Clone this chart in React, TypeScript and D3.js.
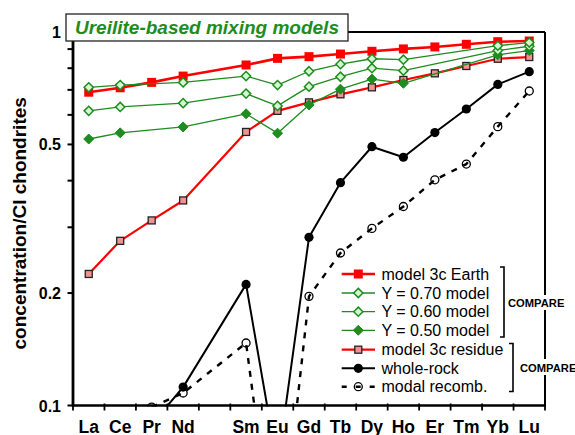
import React from "react";
import * as d3 from "d3";

const ELEMENTS = ["La", "Ce", "Pr", "Nd", "Pm", "Sm", "Eu", "Gd", "Tb", "Dy", "Ho", "Er", "Tm", "Yb", "Lu"];
const X_LABELS = ["La", "Ce", "Pr", "Nd", "", "Sm", "Eu", "Gd", "Tb", "Dy", "Ho", "Er", "Tm", "Yb", "Lu"];

const EARTH = [0.690, 0.709, 0.733, 0.762, null, 0.816, 0.850, 0.859, 0.873, 0.888, 0.901, 0.912, 0.927, 0.942, 0.946];
const Y70 = [0.711, 0.721, null, 0.733, null, 0.762, 0.721, 0.785, 0.820, 0.848, 0.843, null, null, 0.919, 0.937];
const Y60 = [0.615, 0.630, null, 0.645, null, 0.684, 0.634, 0.714, 0.759, 0.800, 0.788, null, null, 0.892, 0.916];
const Y50 = [0.517, 0.537, null, 0.557, null, 0.604, 0.536, 0.638, 0.703, 0.748, 0.729, null, null, 0.869, 0.892];
const RESIDUE = [0.225, 0.276, 0.313, 0.354, null, 0.540, 0.615, 0.648, 0.681, 0.711, 0.744, 0.775, 0.811, 0.848, 0.857];
const WHOLE_ROCK = [null, null, 0.089, 0.112, null, 0.211, 0.069, 0.282, 0.395, 0.493, 0.462, 0.538, 0.622, 0.724, 0.783];
const MODAL = [null, null, 0.099, 0.108, null, 0.147, 0.034, 0.196, 0.256, 0.298, 0.341, 0.402, 0.443, 0.558, 0.695];

const Y_MAJOR = [1, 0.5, 0.2, 0.1];
const Y_MAJOR_LABELS = ["1", "0.5", "0.2", "0.1"];
const Y_MINOR = [0.9, 0.8, 0.7, 0.6, 0.4, 0.3];

const LEGEND_LABELS = [
  "model 3c Earth",
  "Y = 0.70 model",
  "Y = 0.60 model",
  "Y = 0.50 model",
  "model 3c residue",
  "whole-rock",
  "modal recomb.",
];

const GREEN = "#1e8c1e";
const LIGHT_GREEN = "#d2f7d2";
const RED = "#ff0000";
const PINK = "#f39191";
const FONT = "'Liberation Sans', Arial, Helvetica, sans-serif";
const NARROW = "'Liberation Sans Narrow', 'Arial Narrow', 'Liberation Sans', Arial, sans-serif";

const L = 73, R = 545, T = 32, B = 405.5;

type Pt = { x: number; y: number };

function diamondPath(r: number) {
  return `M0,${-r}L${r},0L0,${r}L${-r},0Z`;
}

function Marker({ kind, x, y }: { kind: string; x: number; y: number }) {
  switch (kind) {
    case "earth":
      return <rect x={x - 4.5} y={y - 4.5} width={9} height={9} fill={RED} />;
    case "open":
      return <path d={diamondPath(4.6)} transform={`translate(${x},${y})`} fill={LIGHT_GREEN} stroke={GREEN} strokeWidth={1.5} />;
    case "filled":
      return <path d={diamondPath(5)} transform={`translate(${x},${y})`} fill={GREEN} stroke={GREEN} strokeWidth={1} />;
    case "residue":
      return <rect x={x - 3.5} y={y - 3.5} width={7} height={7} fill={PINK} stroke="#222" strokeWidth={1.3} />;
    case "whole":
      return <circle cx={x} cy={y} r={4.6} fill="#000" />;
    case "modal":
      return <circle cx={x} cy={y} r={4} fill="none" stroke="#000" strokeWidth={1.3} />;
    default:
      return null;
  }
}

export default function App() {
  const x = d3.scaleBand<string>().domain(ELEMENTS).range([L, R]).padding(0);
  const bw = x.bandwidth();
  const cx = (e: string) => (x(e) as number) + bw / 2;
  const y = d3.scaleLog().domain([0.1, 1]).range([B, T]);

  const pts = (vals: (number | null)[]): Pt[] =>
    ELEMENTS.map((e, i) => (vals[i] == null ? null : { x: cx(e), y: y(vals[i] as number) })).filter(
      (p): p is Pt => p !== null
    );
  const line = d3.line<Pt>().x((d) => d.x).y((d) => d.y);

  const series = [
    { vals: MODAL, stroke: "#000", width: 2.4, dash: "6,7", marker: "modal" },
    { vals: WHOLE_ROCK, stroke: "#000", width: 2, dash: undefined, marker: "whole" },
    { vals: RESIDUE, stroke: RED, width: 2.2, dash: undefined, marker: "residue" },
    { vals: EARTH, stroke: RED, width: 2.6, dash: undefined, marker: "earth" },
    { vals: Y50, stroke: GREEN, width: 1.3, dash: undefined, marker: "filled" },
    { vals: Y60, stroke: GREEN, width: 1.3, dash: undefined, marker: "open" },
    { vals: Y70, stroke: GREEN, width: 1.3, dash: undefined, marker: "open" },
  ];

  const legendStyles = [
    { stroke: RED, width: 2.6, dash: undefined, marker: "earth" },
    { stroke: GREEN, width: 1.3, dash: undefined, marker: "open" },
    { stroke: GREEN, width: 1.3, dash: undefined, marker: "open" },
    { stroke: GREEN, width: 1.3, dash: undefined, marker: "filled" },
    { stroke: RED, width: 2.2, dash: undefined, marker: "residue" },
    { stroke: "#000", width: 2, dash: undefined, marker: "whole" },
    { stroke: "#000", width: 2.4, dash: "5,9", marker: "modal" },
  ];
  const legendY = [274, 293, 311.7, 330.3, 349.7, 368.3, 386.7];

  const ticksX = d3.range(ELEMENTS.length + 1).map((i) => L + i * bw);

  return (
    <svg width={575} height={435} style={{ position: "absolute", left: 0, top: 0, display: "block", background: "#fff" }} fontFamily={FONT}>
      <defs>
        <clipPath id="plot">
          <rect x={L} y={T - 6} width={R - L + 6} height={B - T + 7} />
        </clipPath>
      </defs>
      <rect x={0} y={0} width={575} height={435} fill="#fff" />

      {/* frame top & right */}
      <line x1={L} x2={R} y1={T} y2={T} stroke="#000" strokeWidth={2} />
      <line x1={R} x2={R} y1={T} y2={B} stroke="#000" strokeWidth={2} />

      {/* data */}
      <g clipPath="url(#plot)">
        {series.map((s, i) => {
          const p = pts(s.vals);
          return (
            <g key={i}>
              <path d={line(p) || ""} fill="none" stroke={s.stroke} strokeWidth={s.width} strokeDasharray={s.dash} strokeLinejoin="round" />
              {p.map((q, j) => (
                <Marker key={j} kind={s.marker} x={q.x} y={q.y} />
              ))}
            </g>
          );
        })}
      </g>

      {/* axes */}
      <line x1={L} x2={L} y1={T - 1} y2={B + 1} stroke="#000" strokeWidth={2.8} />
      <line x1={L - 1} x2={R + 1} y1={B} y2={B} stroke="#000" strokeWidth={2.4} />
      {Y_MAJOR.map((v, i) => (
        <g key={"ym" + i}>
          <line x1={L - 5.5} x2={L} y1={y(v)} y2={y(v)} stroke="#000" strokeWidth={2} />
          <text x={61} y={y(v) + 6} textAnchor="end" fontSize={16} fontWeight="bold">
            {Y_MAJOR_LABELS[i]}
          </text>
        </g>
      ))}
      {Y_MINOR.map((v, i) => (
        <line key={"yn" + i} x1={L - 5.5} x2={L} y1={y(v)} y2={y(v)} stroke="#000" strokeWidth={2} />
      ))}
      {ticksX.map((t, i) => (
        <line key={"xt" + i} x1={t} x2={t} y1={B - 2} y2={B + 5} stroke="#000" strokeWidth={1.8} />
      ))}
      {ELEMENTS.map((e, i) => (
        <text key={"xl" + i} x={cx(e)} y={432.5} textAnchor="middle" fontSize={17.5} fontWeight="bold" fontFamily={NARROW}>
          {X_LABELS[i]}
        </text>
      ))}
      <text transform={`translate(26,223.3) rotate(-90)`} textAnchor="middle" fontSize={19} fontWeight="bold">
        concentration/CI chondrites
      </text>

      {/* title box */}
      <rect x={66} y={14} width={282} height={27} fill="#fff" stroke="#222" strokeWidth={1.3} />
      <text x={75} y={33.5} fontSize={19} fontWeight="bold" fontStyle="italic" fill={GREEN}>
        Ureilite-based mixing models
      </text>

      {/* legend */}
      {LEGEND_LABELS.map((lab, i) => {
        const st = legendStyles[i];
        const ly = legendY[i];
        return (
          <g key={"lg" + i}>
            <line x1={341.7} x2={375} y1={ly} y2={ly} stroke={st.stroke} strokeWidth={st.width} strokeDasharray={st.dash} />
            <Marker kind={st.marker} x={358.3} y={ly} />
            <text x={381.5} y={ly + 5.7} fontSize={16}>
              {lab}
            </text>
          </g>
        );
      })}

      {/* brackets */}
      <path d="M500,267H504V337H500" fill="none" stroke="#000" strokeWidth={1.6} />
      <path d="M509,343.5H513V391.5H509" fill="none" stroke="#000" strokeWidth={1.6} />
      <rect x={507} y={295} width={57} height={15} fill="#fff" />
      <text x={508} y={306.7} fontSize={11.2} fontWeight="bold">COMPARE</text>
      <rect x={519} y={359} width={57} height={16} fill="#fff" />
      <text x={520} y={371.5} fontSize={11.2} fontWeight="bold">COMPARE</text>
    </svg>
  );
}
